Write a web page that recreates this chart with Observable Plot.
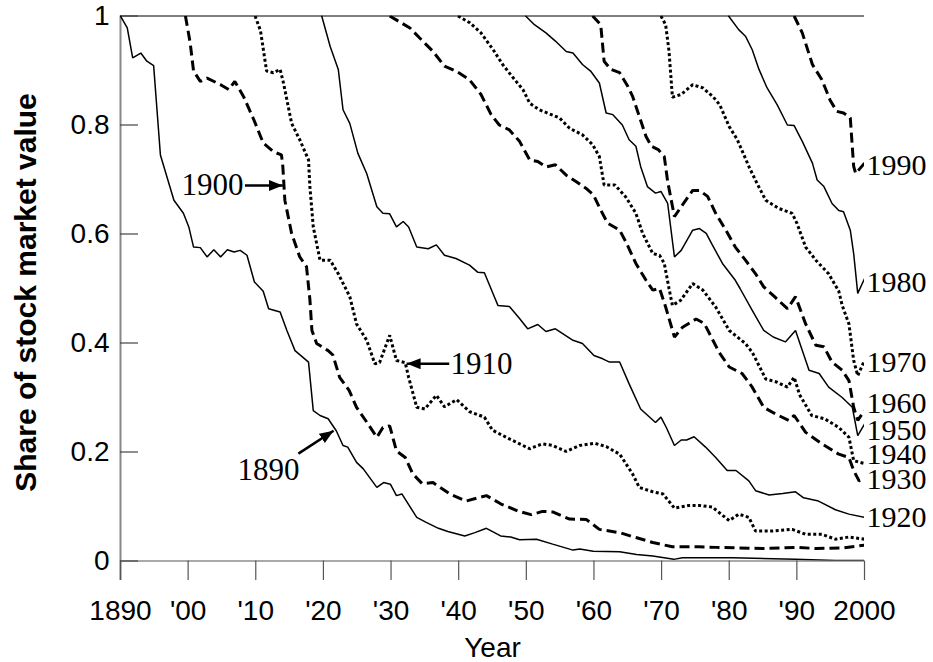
<!DOCTYPE html>
<html>
<head>
<meta charset="utf-8">
<script src="https://cdn.jsdelivr.net/npm/d3@7"></script>
<script src="https://cdn.jsdelivr.net/npm/@observablehq/plot@0.6"></script>
<style>
  html, body { margin: 0; padding: 0; background: #fff; }
  #chart svg { display: block; }
</style>
</head>
<body>
<div id="chart"></div>
<script>
// ---- Data ----
const cohorts = [1890, 1900, 1910, 1920, 1930, 1940, 1950, 1960, 1970, 1980, 1990];
const lineStyles = ["solid", "dashed", "dotted", "solid", "dashed", "dotted", "solid", "dashed", "dotted", "solid", "dashed"];

const c1890 = [[1890,1.0],[1891,0.978],[1891.8,0.923],[1893,0.932],[1893.9,0.917],[1894.9,0.909],[1895.9,0.745],[1897.9,0.662],[1899.3,0.638],[1900.1,0.613],[1900.8,0.576],[1901.8,0.575],[1902.8,0.558],[1903.8,0.571],[1904.8,0.558],[1905.8,0.571],[1906.8,0.567],[1907.7,0.570],[1908.7,0.561],[1909.8,0.512],[1911.1,0.495],[1911.9,0.463],[1913.6,0.457],[1914.6,0.423],[1915.8,0.386],[1917.8,0.365],[1918.5,0.276],[1919.5,0.267],[1920.7,0.261],[1921.9,0.239],[1922.9,0.212],[1923.6,0.209],[1924.9,0.181],[1925.9,0.169],[1927.9,0.135],[1928.9,0.144],[1929.9,0.141],[1930.8,0.120],[1931.6,0.123],[1933.8,0.080],[1935.2,0.071],[1937,0.060],[1938.4,0.054],[1940.9,0.046],[1942.4,0.052],[1944.1,0.060],[1946.2,0.046],[1947.7,0.044],[1949,0.039],[1951.5,0.040],[1953.9,0.031],[1956.9,0.020],[1957.9,0.022],[1959.9,0.018],[1963.8,0.017],[1966.3,0.012],[1968.7,0.009],[1971.8,0.003],[1973.1,0.006],[1980.5,0.006],[1989.8,0.003],[1995.7,0.001],[2000,0.001]];
const c1900 = [[1899.6,1.0],[1900.3,0.951],[1900.8,0.899],[1901.8,0.880],[1902.8,0.886],[1904.8,0.874],[1906,0.865],[1906.9,0.880],[1908.2,0.852],[1909.7,0.810],[1911.1,0.767],[1912.6,0.751],[1913.8,0.745],[1914,0.724],[1914.3,0.662],[1915.3,0.601],[1916.5,0.558],[1917.5,0.540],[1918,0.480],[1918.3,0.423],[1919,0.399],[1920.7,0.386],[1921.4,0.378],[1922.4,0.337],[1923.8,0.313],[1924.9,0.282],[1926.4,0.255],[1927.9,0.227],[1928.8,0.245],[1929.8,0.248],[1930.8,0.202],[1932.1,0.190],[1933.2,0.160],[1934.6,0.142],[1936.2,0.144],[1938.7,0.123],[1941.1,0.110],[1944.1,0.120],[1946.2,0.105],[1948.7,0.092],[1950.7,0.085],[1952.4,0.091],[1953.9,0.090],[1956.4,0.077],[1958.9,0.076],[1960.8,0.058],[1963.8,0.052],[1966.2,0.043],[1968.7,0.034],[1971.6,0.026],[1975.5,0.026],[1978,0.025],[1984.9,0.023],[1989.8,0.025],[1992.8,0.023],[1996.7,0.024],[2000,0.029]];
const c1910 = [[1909.9,1.0],[1910.7,0.973],[1911.6,0.899],[1912.6,0.896],[1913.6,0.902],[1914.1,0.877],[1915.3,0.803],[1916.5,0.773],[1917.8,0.736],[1918,0.687],[1918.5,0.613],[1919.5,0.552],[1921,0.552],[1922.2,0.527],[1923.9,0.485],[1924.9,0.435],[1926.4,0.405],[1927.6,0.362],[1928.3,0.364],[1929.8,0.414],[1930.8,0.368],[1932.1,0.364],[1932.6,0.337],[1933.8,0.282],[1935,0.279],[1936.7,0.304],[1937.9,0.283],[1939.7,0.296],[1941.6,0.274],[1943.8,0.264],[1945,0.240],[1947.5,0.224],[1950.5,0.206],[1952.4,0.215],[1953.9,0.212],[1955.9,0.201],[1957.9,0.212],[1960.1,0.216],[1961.8,0.210],[1963.8,0.196],[1965.7,0.160],[1966.7,0.135],[1968.7,0.127],[1970.2,0.123],[1971.9,0.097],[1974.1,0.102],[1975.6,0.102],[1977.5,0.099],[1980,0.074],[1981.4,0.086],[1982.9,0.080],[1983.9,0.055],[1986.4,0.055],[1989.3,0.058],[1991.3,0.049],[1993.7,0.049],[1995.7,0.040],[1997.7,0.044],[2000,0.040]];
const c1920 = [[1919.75,1.0],[1921,0.944],[1922.2,0.902],[1922.9,0.828],[1923.9,0.803],[1925.1,0.748],[1926.4,0.711],[1927.9,0.650],[1928.8,0.638],[1929.8,0.637],[1930.8,0.613],[1931.8,0.623],[1932.6,0.613],[1933.8,0.576],[1935.5,0.573],[1936.7,0.580],[1937.9,0.561],[1939.6,0.555],[1941.6,0.543],[1942.8,0.530],[1943.8,0.529],[1945.3,0.484],[1945.8,0.469],[1947.5,0.467],[1949,0.445],[1950.2,0.426],[1951.7,0.434],[1952.9,0.421],[1954.3,0.426],[1956.9,0.405],[1958.3,0.399],[1960,0.377],[1961.3,0.371],[1962.3,0.365],[1963.8,0.365],[1965.2,0.325],[1966.9,0.279],[1969.1,0.254],[1969.9,0.264],[1970.7,0.245],[1971.9,0.212],[1972.9,0.222],[1973.7,0.222],[1974.8,0.228],[1976.5,0.209],[1978,0.190],[1979.7,0.166],[1981,0.166],[1982.9,0.147],[1983.9,0.129],[1985.9,0.121],[1987.9,0.124],[1989.8,0.127],[1991,0.116],[1993.2,0.110],[1995.7,0.094],[1997.7,0.086],[2000,0.080]];
const c1930 = [[1929.8,1.0],[1932.8,0.978],[1934.2,0.960],[1936.2,0.935],[1937.9,0.908],[1939.6,0.899],[1941.6,0.883],[1943.3,0.856],[1944.8,0.819],[1946,0.800],[1947.5,0.791],[1949,0.770],[1950.5,0.736],[1951.7,0.733],[1952.9,0.723],[1954.3,0.727],[1955.9,0.708],[1957.4,0.696],[1958.8,0.684],[1959.9,0.672],[1961,0.644],[1962,0.620],[1963.8,0.607],[1964.7,0.586],[1966.2,0.546],[1967.7,0.515],[1968.7,0.497],[1969.7,0.500],[1970.6,0.466],[1971.9,0.411],[1973.1,0.429],[1975.1,0.444],[1976.3,0.436],[1978.5,0.383],[1980,0.356],[1981.9,0.344],[1983.4,0.319],[1985.1,0.282],[1986.8,0.270],[1988.8,0.258],[1989.6,0.267],[1991.3,0.236],[1993.7,0.215],[1996.2,0.196],[1997.7,0.190],[1998.4,0.166],[1999.2,0.147],[2000,0.150]];
const c1940 = [[1939.9,1.0],[1941.6,0.988],[1943.3,0.969],[1945.1,0.938],[1946.5,0.911],[1947.9,0.889],[1949.5,0.865],[1950.5,0.840],[1951.9,0.828],[1953.7,0.819],[1954.9,0.813],[1956.4,0.794],[1958.3,0.782],[1959.8,0.764],[1960.8,0.742],[1961.5,0.690],[1963.1,0.690],[1964.7,0.668],[1966.2,0.638],[1967.2,0.601],[1968.7,0.564],[1969.7,0.561],[1970.4,0.546],[1971.1,0.500],[1971.6,0.469],[1972.8,0.478],[1974.6,0.509],[1976.1,0.497],[1978,0.466],[1980,0.423],[1982.4,0.399],[1983.4,0.383],[1985.4,0.334],[1987.1,0.328],[1988.6,0.319],[1989.6,0.337],[1990.4,0.305],[1992.2,0.267],[1994.1,0.261],[1996.2,0.245],[1997.7,0.227],[1998.4,0.184],[2000,0.179]];
const c1950 = [[1949.9,1.0],[1951.2,0.984],[1952.9,0.969],[1954.3,0.954],[1955.9,0.935],[1956.9,0.932],[1958.3,0.911],[1959.5,0.899],[1960.8,0.877],[1961.8,0.822],[1962.8,0.819],[1964.2,0.800],[1965.2,0.773],[1966.2,0.761],[1966.9,0.724],[1967.9,0.687],[1969.1,0.675],[1969.9,0.678],[1970.9,0.656],[1971.9,0.558],[1972.9,0.570],[1974.6,0.607],[1975.6,0.610],[1976.6,0.601],[1977.5,0.580],[1979,0.546],[1980.9,0.515],[1981.6,0.500],[1983.4,0.460],[1985.1,0.423],[1986.5,0.411],[1988.3,0.402],[1989.8,0.423],[1991.8,0.350],[1993.3,0.344],[1994.7,0.319],[1996.7,0.300],[1998.2,0.282],[1999,0.230],[2000,0.251]];
const c1960 = [[1959.8,1.0],[1961,0.984],[1961.5,0.917],[1962.5,0.902],[1963.8,0.896],[1965,0.871],[1965.7,0.853],[1966.7,0.816],[1967.7,0.779],[1968.5,0.761],[1969.5,0.755],[1970.4,0.742],[1970.9,0.696],[1971.9,0.632],[1972.9,0.650],[1974.6,0.680],[1975.6,0.680],[1976.8,0.669],[1978,0.638],[1979.5,0.607],[1980.9,0.576],[1982.4,0.552],[1983.9,0.527],[1985.1,0.503],[1986.7,0.485],[1988.6,0.463],[1989.8,0.485],[1991.3,0.435],[1992.8,0.396],[1994,0.393],[1995.2,0.365],[1996.7,0.350],[1997.7,0.331],[1998.4,0.282],[1999,0.258],[2000,0.276]];
const c1970 = [[1969.9,1.0],[1970.6,0.984],[1971.1,0.935],[1971.6,0.851],[1972.9,0.856],[1974.6,0.874],[1976.1,0.868],[1977.6,0.852],[1978.6,0.837],[1980,0.797],[1981.2,0.773],[1982.9,0.724],[1984.1,0.693],[1985.4,0.662],[1987.3,0.647],[1989.3,0.638],[1990,0.620],[1991.3,0.576],[1992.8,0.552],[1994.7,0.527],[1996.2,0.495],[1996.7,0.469],[1997.7,0.435],[1998.4,0.368],[1999,0.340],[2000,0.368]];
const c1980 = [[1979.9,1.0],[1981.4,0.975],[1982.4,0.963],[1983.4,0.938],[1984.4,0.902],[1985.6,0.868],[1987.1,0.837],[1988.6,0.800],[1989.6,0.799],[1990.8,0.770],[1992.3,0.730],[1993,0.699],[1994,0.687],[1995.2,0.656],[1996.2,0.643],[1996.9,0.641],[1997.9,0.607],[1998.4,0.564],[1999,0.491],[2000,0.518]];
const c1990 = [[1989.6,1.0],[1990.8,0.969],[1992.3,0.911],[1993.7,0.883],[1994.9,0.846],[1995.9,0.825],[1996.9,0.822],[1997.9,0.813],[1998.4,0.724],[1998.7,0.711],[2000,0.730]];
const seriesByCohort = [c1890, c1900, c1910, c1920, c1930, c1940, c1950, c1960, c1970, c1980, c1990];

// Tick labels
const xTicks = [1890, 1900, 1910, 1920, 1930, 1940, 1950, 1960, 1970, 1980, 1990, 2000];
const xTickLabels = ["1890", "'00", "'10", "'20", "'30", "'40", "'50", "'60", "'70", "'80", "'90", "2000"];
const yTicks = [0, 0.2, 0.4, 0.6, 0.8, 1];
const yTickLabels = ["0", "0.2", "0.4", "0.6", "0.8", "1"];

// Cohort labels at the right edge (share where label sits)
const endLabelCohorts = [1990, 1980, 1970, 1960, 1950, 1940, 1930, 1920];
const endLabelShares = [0.726, 0.511, 0.365, 0.290, 0.240, 0.195, 0.150, 0.080];

// Arrow annotations: label, text position, arrow start and end
const noteLabels = ["1900", "1910", "1890"];
const noteTextYear = [1908.2, 1938.8, 1911.9];
const noteTextShare = [0.689, 0.362, 0.166];
const noteAnchor = ["end", "start", "middle"];
const arrowFromYear = [1908.4, 1938.6, 1916.3];
const arrowFromShare = [0.689, 0.362, 0.197];
const arrowToYear = [1914.0, 1932.3, 1921.5];
const arrowToShare = [0.689, 0.362, 0.239];

// ---- Build tables ----
const rows = [];
cohorts.forEach((c, i) => {
  seriesByCohort[i].forEach(([year, share]) => rows.push({cohort: c, style: lineStyles[i], year, share}));
});
const endLabels = endLabelCohorts.map((c, i) => ({text: String(c), year: 2000, share: endLabelShares[i]}));
const notes = noteLabels.map((t, i) => ({text: t, year: noteTextYear[i], share: noteTextShare[i], anchor: noteAnchor[i]}));
const arrows = noteLabels.map((t, i) => ({x1: arrowFromYear[i], y1: arrowFromShare[i], x2: arrowToYear[i], y2: arrowToShare[i]}));
const xLabelMap = new Map(xTicks.map((d, i) => [d, xTickLabels[i]]));
const yLabelMap = new Map(yTicks.map((d, i) => [d, yTickLabels[i]]));

// Filled arrowhead marker
function filledArrow(color, context) {
  const doc = (context && context.document) || document;
  const ns = "http://www.w3.org/2000/svg";
  const m = doc.createElementNS(ns, "marker");
  m.setAttribute("viewBox", "-14 -5.5 14 11");
  m.setAttribute("markerWidth", "14");
  m.setAttribute("markerHeight", "11");
  m.setAttribute("markerUnits", "userSpaceOnUse");
  m.setAttribute("refX", "0");
  m.setAttribute("refY", "0");
  m.setAttribute("orient", "auto");
  const p = doc.createElementNS(ns, "path");
  p.setAttribute("d", "M-14,-5.5L0,0L-14,5.5Z");
  p.setAttribute("fill", color);
  p.setAttribute("stroke", "none");
  m.appendChild(p);
  return m;
}

const sans = "'Liberation Sans', Arial, Helvetica, sans-serif";
const serif = "'Liberation Serif', 'Times New Roman', Times, serif";
const frameH = 662 - 15.5 - 101.5;
const noteMarks = ["end", "start", "middle"].map(a =>
  Plot.text(notes.filter(d => d.anchor === a), {x: "year", y: "share", text: "text", textAnchor: a, fontSize: 31, fontFamily: serif, fill: "#000"})
);

const chart = Plot.plot({
  width: 933,
  height: 662,
  marginLeft: 120,
  marginRight: 69,
  marginTop: 15.5,
  marginBottom: 101.5,
  x: {type: "linear", domain: [1890, 2000]},
  y: {type: "linear", domain: [0, 1]},
  style: {fontFamily: sans, background: "#fff", color: "#000", overflow: "visible"},
  marks: [
    // frame pieces
    Plot.ruleY([1], {stroke: "#000", strokeWidth: 1}),
    Plot.ruleY([0], {stroke: "#555", strokeWidth: 1.2}),
    Plot.ruleX([1890], {stroke: "#888", strokeWidth: 2, insetBottom: -19.5}),
    // x ticks (outward, below)
    Plot.ruleX(xTicks, {x: d => d, stroke: "#555", strokeWidth: 1.2, insetTop: frameH, insetBottom: -19.5}),
    // y ticks (inward)
    Plot.ruleY(yTicks, {y: d => d, stroke: "#444", strokeWidth: 1.2, insetRight: 744 - 18}),
    // axis labels
    Plot.axisX({ticks: xTicks, tickFormat: d => xLabelMap.get(d), tickSize: 0, tickPadding: 39.5, fontSize: 28, label: null, fill: "#000"}),
    Plot.axisY({ticks: yTicks, tickFormat: d => yLabelMap.get(d), tickSize: 0, tickPadding: 11, fontSize: 28, label: null, fill: "#000"}),
    Plot.text(["Share of stock market value"], {frameAnchor: "left", textAnchor: "middle", lineAnchor: "middle", rotate: -90, dx: -94, dy: 4, fontSize: 30, fontWeight: "bold", fill: "#000"}),
    Plot.text(["Year"], {frameAnchor: "bottom", lineAnchor: "middle", dy: 87, fontSize: 28, fill: "#000"}),
    // cohort lines
    Plot.line(rows.filter(d => d.style === "solid"), {x: "year", y: "share", z: "cohort", stroke: "#000", strokeWidth: 1.5, strokeLinejoin: "miter", clip: true}),
    Plot.line(rows.filter(d => d.style === "dashed"), {x: "year", y: "share", z: "cohort", stroke: "#000", strokeWidth: 3, strokeDasharray: "10,5", strokeLinecap: "butt", strokeLinejoin: "miter", clip: true}),
    Plot.line(rows.filter(d => d.style === "dotted"), {x: "year", y: "share", z: "cohort", stroke: "#000", strokeWidth: 3, strokeDasharray: "3,2.5", strokeLinecap: "butt", strokeLinejoin: "miter", clip: true}),
    // labels
    Plot.text(endLabels, {x: "year", y: "share", text: "text", textAnchor: "start", dx: 2, fontSize: 30, fontFamily: serif, fill: "#000"}),
    ...noteMarks,
    Plot.link(arrows, {x1: "x1", y1: "y1", x2: "x2", y2: "y2", stroke: "#000", strokeWidth: 2.5, markerEnd: filledArrow})
  ]
});

document.getElementById("chart").appendChild(chart);
</script>
</body>
</html>
